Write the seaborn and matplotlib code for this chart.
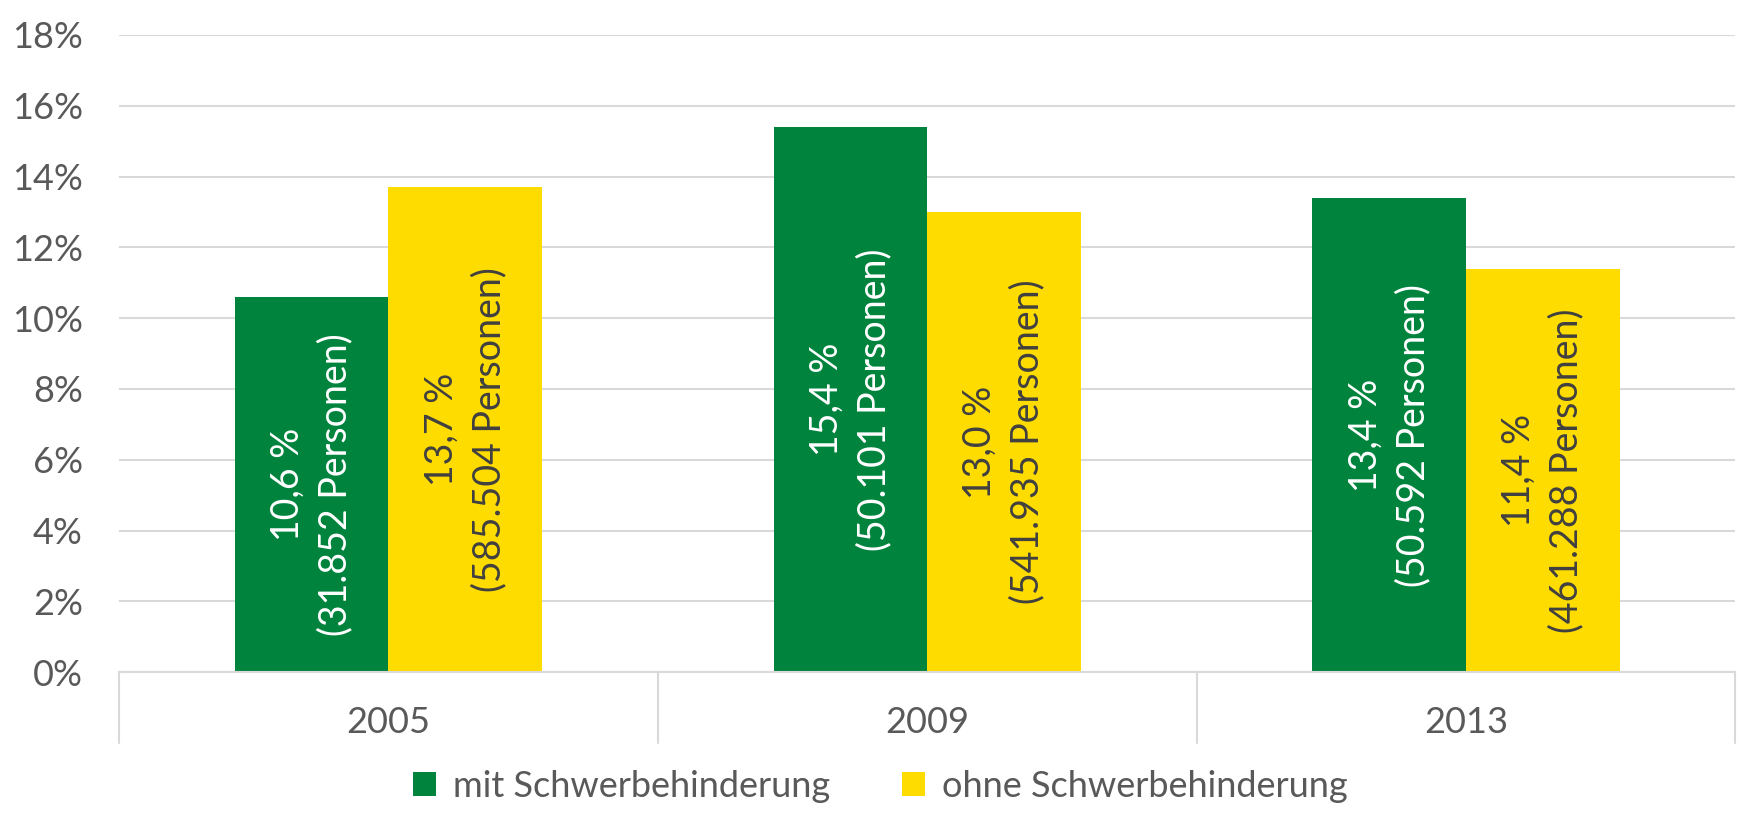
import matplotlib
matplotlib.use("Agg")
import matplotlib.pyplot as plt
import matplotlib.ticker as mticker
from matplotlib.patches import Patch
import seaborn as sns
import pandas as pd

years = ["2005", "2009", "2013"]
series = ["mit Schwerbehinderung", "ohne Schwerbehinderung"]
mit_values = [10.6, 15.4, 13.4]
ohne_values = [13.7, 13.0, 11.4]
mit_labels = ["10,6 %\n(31.852 Personen)", "15,4 %\n(50.101 Personen)", "13,4 %\n(50.592 Personen)"]
ohne_labels = ["13,7 %\n(585.504 Personen)", "13,0 %\n(541.935 Personen)", "11,4 %\n(461.288 Personen)"]
y_ticks = [0, 2, 4, 6, 8, 10, 12, 14, 16, 18]

GREEN = "#00843D"
YELLOW = "#FFDC00"
TEXT = "#595959"
GRID = "#D9D9D9"

df = pd.DataFrame({
    "Jahr": years * 2,
    "Gruppe": [series[0]] * 3 + [series[1]] * 3,
    "Wert": mit_values + ohne_values,
})

sns.set_theme(style="white")
plt.rcParams["font.family"] = ["Lato", "DejaVu Sans"]

fig = plt.figure(figsize=(17.6, 8.3), dpi=100)
ax = fig.add_axes([0.0676, 0.190, 0.9184, 0.768])

sns.barplot(data=df, x="Jahr", y="Wert", hue="Gruppe", order=years,
            hue_order=series, palette=[GREEN, YELLOW], width=0.57, gap=0,
            saturation=1, ax=ax, legend=False, linewidth=0)

ax.set_xlim(-0.5, 2.5)
ax.set_ylim(0, 18)
ax.set_yticks(y_ticks)
ax.yaxis.set_major_formatter(mticker.FuncFormatter(lambda v, p: f"{int(v)}%"))
ax.grid(axis="y", color=GRID, linewidth=1.5)
ax.set_axisbelow(True)
for s in ["top", "right", "left"]:
    ax.spines[s].set_visible(False)
ax.spines["bottom"].set_color(GRID)
ax.spines["bottom"].set_linewidth(1.5)
ax.tick_params(axis="y", length=0, pad=26, labelsize=26, labelcolor=TEXT)
ax.tick_params(axis="x", length=0, pad=24, labelsize=26, labelcolor=TEXT)
ax.set_xlabel("")
ax.set_ylabel("")

for xs in [-0.5, 0.5, 1.5, 2.5]:
    ax.axvline(xs, ymin=-0.111, ymax=0, color=GRID, linewidth=1.5, clip_on=False)

ax.bar_label(ax.containers[0], labels=mit_labels, label_type="center",
             rotation=90, color="white", fontsize=27, linespacing=1.4)
ax.bar_label(ax.containers[1], labels=ohne_labels, label_type="center",
             rotation=90, color="#404040", fontsize=27, linespacing=1.4)

handles = [Patch(facecolor=GREEN, edgecolor="none"), Patch(facecolor=YELLOW, edgecolor="none")]
fig.legend(handles, series, loc="center", bbox_to_anchor=(0.5, 0.053), ncol=2,
           frameon=False, fontsize=26, labelcolor=TEXT, handlelength=0.65,
           handleheight=0.65, handletextpad=0.45, columnspacing=2.0)

fig.savefig("out.png", dpi=100)
